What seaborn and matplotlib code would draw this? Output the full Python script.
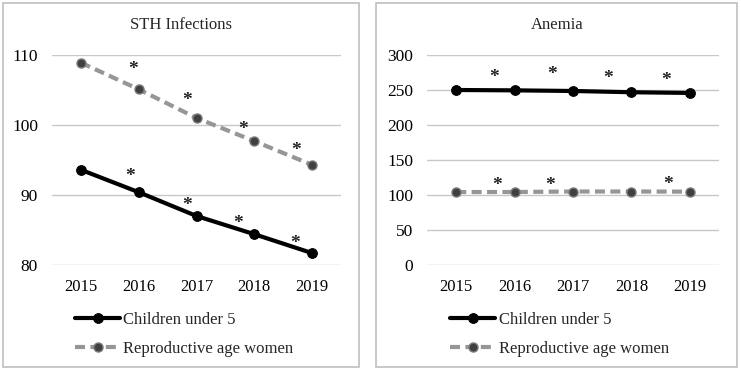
import numpy as np
import pandas as pd
import seaborn as sns
import matplotlib.pyplot as plt
from matplotlib.patches import Rectangle

# data
years = ['2015', '2016', '2017', '2018', '2019']
series_names = ['Children under 5', 'Reproductive age women']

sth_children = [93.6, 90.4, 87.0, 84.4, 81.7]
sth_women = [108.9, 105.1, 101.0, 97.7, 94.3]
anemia_children = [250, 249.5, 248.6, 246.8, 245.8]
anemia_women = [104.2, 104.3, 105.0, 105.0, 104.8]

# significance stars (x index, y value)
sth_star_children_x = [0.85, 1.84, 2.72, 3.70]
sth_star_children_y = [92.6, 88.5, 86.0, 83.0]
sth_star_women_x = [0.90, 1.84, 2.80, 3.72]
sth_star_women_y = [108.0, 103.5, 99.4, 96.4]
anemia_star_children_x = [0.65, 1.65, 2.60, 3.60]
anemia_star_children_y = [268, 272, 267, 263]
anemia_star_women_x = [0.70, 1.60, 3.62]
anemia_star_women_y = [113, 113, 115]

sns.set_theme(style='white')
plt.rcParams['font.family'] = ['Liberation Serif', 'DejaVu Serif']

W, H = 741, 371
fig = plt.figure(figsize=(W / 100, H / 100), dpi=100)


def px_rect(x0, y0, x1, y1):
    return [x0 / W, 1 - y1 / H, (x1 - x0) / W, (y1 - y0) / H]


# panel borders
for (x0, y0, x1, y1) in [(3, 3, 359, 367), (376, 3, 737, 367)]:
    fig.add_artist(Rectangle((x0 / W, 1 - y1 / H), (x1 - x0) / W, (y1 - y0) / H,
                             transform=fig.transFigure, fill=False,
                             edgecolor='#bfbfbf', lw=1.2))

panels = [
    dict(rect=px_rect(52, 55, 341, 265), title='STH Infections', tx=181,
         children=sth_children, women=sth_women, ylim=(80, 110), yticks=[80, 90, 100, 110],
         stars=[(sth_star_children_x, sth_star_children_y), (sth_star_women_x, sth_star_women_y)]),
    dict(rect=px_rect(427, 55, 719, 265), title='Anemia', tx=557,
         children=anemia_children, women=anemia_women, ylim=(0, 300),
         yticks=[0, 50, 100, 150, 200, 250, 300],
         stars=[(anemia_star_children_x, anemia_star_children_y),
                (anemia_star_women_x, anemia_star_women_y)]),
]

for p in panels:
    ax = fig.add_axes(p['rect'])
    sns.lineplot(x=years, y=p['children'], ax=ax, color='black', lw=3,
                 marker='o', markersize=7, markeredgecolor='black',
                 label=series_names[0])
    sns.lineplot(x=years, y=p['women'], ax=ax, color='#969696', lw=3,
                 linestyle=(0, (2.4, 1.3)), marker='o', markersize=6.5,
                 markerfacecolor='#404040', markeredgecolor='#7a7a7a',
                 markeredgewidth=1, label=series_names[1])
    for sx, sy in p['stars']:
        for x, y in zip(sx, sy):
            ax.text(x, y, '*', ha='center', va='center', fontsize=14,
                    color='#222222', fontweight='bold')
    ax.set_xlim(-0.5, 4.5)
    ax.set_ylim(*p['ylim'])
    ax.set_yticks(p['yticks'])
    ax.set_xlabel('')
    ax.set_ylabel('')
    ax.grid(axis='y', color='#c8c8c8', lw=1)
    ax.grid(axis='x', visible=False)
    for s in ax.spines.values():
        s.set_visible(False)
    ax.tick_params(axis='y', labelsize=12.5, length=0, pad=10, colors='black')
    ax.tick_params(axis='x', labelsize=12, length=0, pad=10, colors='black')
    ax.set_axisbelow(True)
    ax.legend(loc='upper left', bbox_to_anchor=(0.08, -0.225), frameon=False,
              borderpad=0, borderaxespad=0, fontsize=12, handlelength=2.7,
              handletextpad=0.2, labelspacing=0.78)
    fig.text(p['tx'] / W, 1 - 25 / H, p['title'], ha='center', va='center', fontsize=12)

fig.savefig('out.png', dpi=100)
